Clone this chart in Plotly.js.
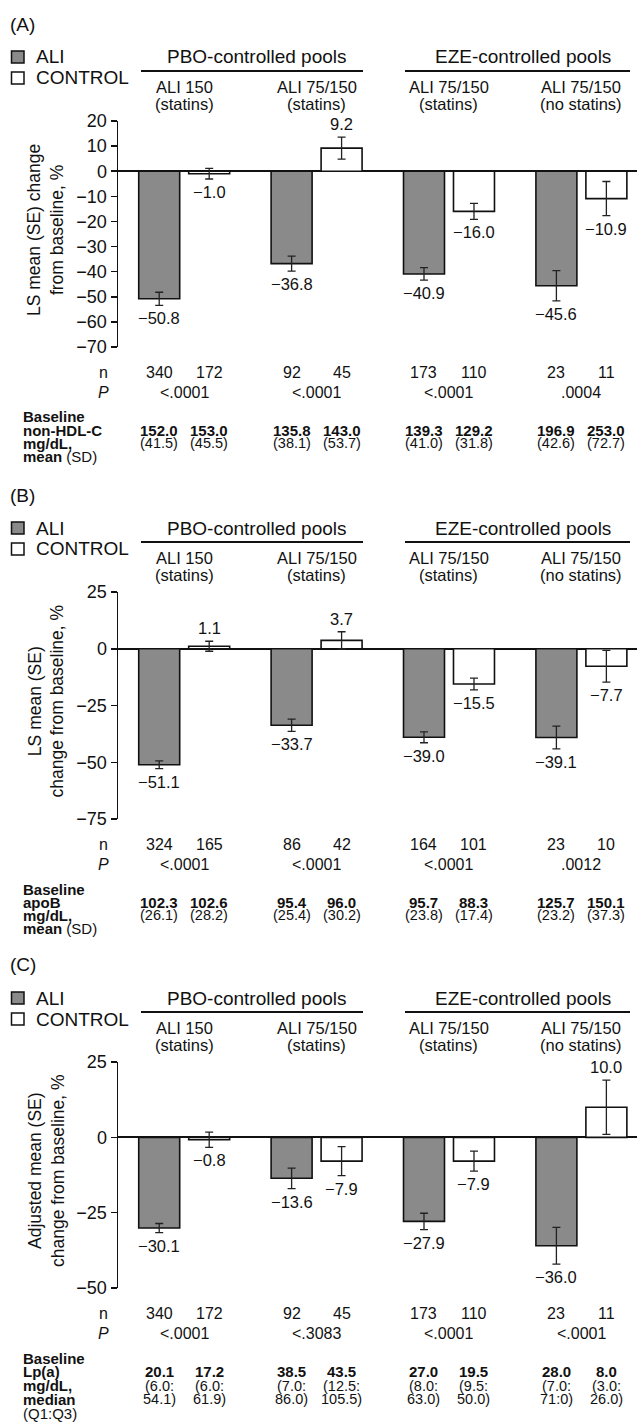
<!DOCTYPE html>
<html>
<head>
<meta charset="utf-8">
<script src="https://cdn.plot.ly/plotly-3.0.1.min.js"></script>
<style>
  html, body { margin: 0; padding: 0; background: #fff; }
  #chart { width: 637px; height: 1427px; }
</style>
</head>
<body>
<div id="chart"></div>
<script>
// ---------- data ----------
const groups = ["PBO: ALI 150 (statins)", "PBO: ALI 75/150 (statins)", "EZE: ALI 75/150 (statins)", "EZE: ALI 75/150 (no statins)"];
const subLine1 = ["ALI 150", "ALI 75/150", "ALI 75/150", "ALI 75/150"];
const subLine2 = ["(statins)", "(statins)", "(statins)", "(no statins)"];
const poolLabels = ["PBO-controlled pools", "EZE-controlled pools"];
const seriesNames = ["ALI", "CONTROL"];

// (A) non-HDL-C
const aAli = [-50.8, -36.8, -40.9, -45.6];
const aAliSE = [2.6, 3.0, 2.5, 6.0];
const aCtl = [-1.0, 9.2, -16.0, -10.9];
const aCtlSE = [2.1, 4.4, 3.2, 6.8];
const aNAli = [340, 92, 173, 23];
const aNCtl = [172, 45, 110, 11];
const aP = ["<.0001", "<.0001", "<.0001", ".0004"];
const aBaseAli = ["152.0", "135.8", "139.3", "196.9"];
const aBaseCtl = ["153.0", "143.0", "129.2", "253.0"];
const aSdAli = ["(41.5)", "(38.1)", "(41.0)", "(42.6)"];
const aSdCtl = ["(45.5)", "(53.7)", "(31.8)", "(72.7)"];
const aTicks = [20, 10, 0, -10, -20, -30, -40, -50, -60, -70];
const aYTitle = ["LS mean (SE) change", "from baseline, %"];
const aRowLabels = ["<b>Baseline</b>", "<b>non-HDL-C</b>", "<b>mg/dL,</b>", "<b>mean</b> (SD)"];

// (B) apoB
const bAli = [-51.1, -33.7, -39.0, -39.1];
const bAliSE = [1.7, 2.7, 2.4, 5.0];
const bCtl = [1.1, 3.7, -15.5, -7.7];
const bCtlSE = [2.2, 3.8, 2.6, 7.0];
const bNAli = [324, 86, 164, 23];
const bNCtl = [165, 42, 101, 10];
const bP = ["<.0001", "<.0001", "<.0001", ".0012"];
const bBaseAli = ["102.3", "95.4", "95.7", "125.7"];
const bBaseCtl = ["102.6", "96.0", "88.3", "150.1"];
const bSdAli = ["(26.1)", "(25.4)", "(23.8)", "(23.2)"];
const bSdCtl = ["(28.2)", "(30.2)", "(17.4)", "(37.3)"];
const bTicks = [25, 0, -25, -50, -75];
const bYTitle = ["LS mean (SE)", "change from baseline, %"];
const bRowLabels = ["<b>Baseline</b>", "<b>apoB</b>", "<b>mg/dL,</b>", "<b>mean</b> (SD)"];

// (C) Lp(a)
const cAli = [-30.1, -13.6, -27.9, -36.0];
const cAliSE = [1.5, 3.4, 2.7, 6.1];
const cCtl = [-0.8, -7.9, -7.9, 10.0];
const cCtlSE = [2.5, 4.8, 3.3, 9.0];
const cNAli = [340, 92, 173, 23];
const cNCtl = [172, 45, 110, 11];
const cP = ["<.0001", "<.3083", "<.0001", "<.0001"];
const cBaseAli = ["20.1", "38.5", "27.0", "28.0"];
const cBaseCtl = ["17.2", "43.5", "19.5", "8.0"];
const cQ1Ali = ["(6.0:", "(7.0:", "(8.0:", "(7.0:"];
const cQ1Ctl = ["(6.0:", "(12.5:", "(9.5:", "(3.0:"];
const cQ3Ali = ["54.1)", "86.0)", "63.0)", "71:0)"];
const cQ3Ctl = ["61.9)", "105.5)", "50.0)", "26.0)"];
const cTicks = [25, 0, -25, -50];
const cYTitle = ["Adjusted mean (SE)", "change from baseline, %"];
const cRowLabels = ["<b>Baseline</b>", "<b>Lp(a)</b>", "<b>mg/dL,</b>", "<b>median</b>", "(Q1:Q3)"];

// ---------- layout helpers ----------
const W = 637, H = 1427;
const FONT = "Liberation Sans, Arial, Helvetica, sans-serif";
const ALI_FILL = "#8a8a8a";
const px = v => v / W;
const py = v => 1 - v / H;

const panels = [
  { tag: "(A)", s: "", top: 121, bottom: 347, rowGap: 13.2, ali: aAli, aliSE: aAliSE, ctl: aCtl, ctlSE: aCtlSE,
    nAli: aNAli, nCtl: aNCtl, p: aP, ticks: aTicks, ytitle: aYTitle, rows: aRowLabels,
    valRows: [[aBaseAli, aBaseCtl, true], [aSdAli, aSdCtl, false]] },
  { tag: "(B)", s: "2", top: 592, bottom: 819, rowGap: 13.2, ali: bAli, aliSE: bAliSE, ctl: bCtl, ctlSE: bCtlSE,
    nAli: bNAli, nCtl: bNCtl, p: bP, ticks: bTicks, ytitle: bYTitle, rows: bRowLabels,
    valRows: [[bBaseAli, bBaseCtl, true], [bSdAli, bSdCtl, false]] },
  { tag: "(C)", s: "3", top: 1062, bottom: 1288, rowGap: 13.8, ali: cAli, aliSE: cAliSE, ctl: cCtl, ctlSE: cCtlSE,
    nAli: cNAli, nCtl: cNCtl, p: cP, ticks: cTicks, ytitle: cYTitle, rows: cRowLabels,
    valRows: [[cBaseAli, cBaseCtl, true], [cQ1Ali, cQ1Ctl, false], [cQ3Ali, cQ3Ctl, false]] }
];

const fmt = v => (v < 0 ? "\u2212" : "") + Math.abs(v).toFixed(1);
const traces = [];
const annotations = [];
const shapes = [];
const layout = {
  width: W, height: H, autosize: false,
  margin: { l: 0, r: 0, t: 0, b: 0, pad: 0 },
  paper_bgcolor: "#fff", plot_bgcolor: "rgba(0,0,0,0)",
  font: { family: FONT, color: "#111", size: 16 },
  barmode: "group", bargap: 0.245, bargroupgap: 0.18,
  showlegend: false,
  annotations: annotations, shapes: shapes
};

const BAR_SHIFT = 25;   // px from group centre to each bar centre
const ROWFONT = 14.5;

panels.forEach(pn => {
  const xa = "x" + pn.s, ya = "y" + pn.s;
  const xKey = "xaxis" + pn.s, yKey = "yaxis" + pn.s;
  const rng = [pn.ticks[pn.ticks.length - 1], pn.ticks[0]];
  layout[xKey] = {
    domain: [px(118), 1], range: [-0.5, 3.42], type: "category",
    showticklabels: false, ticks: "", showline: false, showgrid: false, zeroline: false,
    anchor: ya, fixedrange: true
  };
  layout[yKey] = {
    domain: [py(pn.bottom), py(pn.top)], range: rng, tickvals: pn.ticks,
    ticks: "outside", ticklen: 6, tickwidth: 1.5, tickcolor: "#111",
    showline: true, linecolor: "#111", linewidth: 1.5,
    showgrid: false, zeroline: true, zerolinecolor: "#111", zerolinewidth: 2,
    tickfont: { size: 18, family: FONT, color: "#111" },
    anchor: xa, fixedrange: true
  };

  const series = [
    { name: seriesNames[0], y: pn.ali, se: pn.aliSE, fill: ALI_FILL, shift: -BAR_SHIFT, n: pn.nAli },
    { name: seriesNames[1], y: pn.ctl, se: pn.ctlSE, fill: "#ffffff", shift: BAR_SHIFT, n: pn.nCtl }
  ];
  series.forEach(sr => {
    traces.push({
      type: "bar", name: sr.name, x: groups, y: sr.y, xaxis: xa, yaxis: ya,
      marker: { color: sr.fill, line: { color: "#111", width: 1.6 } },
      error_y: { type: "data", array: sr.se, visible: true, color: "#222", thickness: 1.3, width: 4 },
      hoverinfo: "skip"
    });
    // value labels
    sr.y.forEach((v, i) => {
      const neg = v < 0;
      annotations.push({
        xref: xa, yref: ya, x: groups[i], y: neg ? v - sr.se[i] : v + sr.se[i],
        xshift: sr.shift, yshift: neg ? -2 : 2,
        yanchor: neg ? "top" : "bottom", xanchor: "center",
        text: fmt(v), showarrow: false, font: { size: 16.5 }
      });
    });
    // n values
    sr.n.forEach((n, i) => {
      annotations.push({
        xref: xa, yref: "paper", x: groups[i], y: py(pn.bottom + 25), xshift: sr.shift,
        xanchor: "center", yanchor: "middle", text: String(n), showarrow: false, font: { size: 16 }
      });
    });
  });

  // panel tag
  annotations.push({ xref: "paper", yref: "paper", x: px(8), y: py(pn.top - 97), xanchor: "left", yanchor: "middle",
    text: pn.tag, showarrow: false, font: { size: 19 } });
  // legend
  [[seriesNames[0], ALI_FILL, -64], [seriesNames[1], "#ffffff", -43]].forEach(([lab, col, off]) => {
    const cy = pn.top + off;
    shapes.push({ type: "rect", xref: "paper", yref: "paper", x0: px(11.5), x1: px(24), y0: py(cy + 6), y1: py(cy - 6),
      fillcolor: col, line: { color: "#111", width: 1.5 } });
    annotations.push({ xref: "paper", yref: "paper", x: px(34), y: py(cy), xanchor: "left", yanchor: "middle",
      text: lab, showarrow: false, font: { size: 19 } });
  });
  // pool headers
  [[poolLabels[0], 257, 141, 363], [poolLabels[1], 523, 405, 630]].forEach(([lab, cx, x0, x1]) => {
    annotations.push({ xref: "paper", yref: "paper", x: px(cx), y: py(pn.top - 64), xanchor: "center", yanchor: "middle",
      text: lab, showarrow: false, font: { size: 19 } });
    shapes.push({ type: "line", xref: "paper", yref: "paper", x0: px(x0), x1: px(x1), y0: py(pn.top - 50), y1: py(pn.top - 50),
      line: { color: "#111", width: 1.8 } });
  });
  // sub headers
  groups.forEach((g, i) => {
    annotations.push({ xref: xa, yref: "paper", x: g, y: py(pn.top - 34), xanchor: "center", yanchor: "middle",
      text: subLine1[i], showarrow: false, font: { size: 16.5 } });
    annotations.push({ xref: xa, yref: "paper", x: g, y: py(pn.top - 17), xanchor: "center", yanchor: "middle",
      text: subLine2[i], showarrow: false, font: { size: 16.5 } });
    // P values
    annotations.push({ xref: xa, yref: "paper", x: g, y: py(pn.bottom + 45), xanchor: "center", yanchor: "middle",
      text: pn.p[i], showarrow: false, font: { size: 16 } });
  });
  // y title
  annotations.push({ xref: "paper", yref: "paper", x: px(46), y: py((pn.top + pn.bottom) / 2 - 4), xanchor: "center", yanchor: "middle",
    text: pn.ytitle.join("<br>"), textangle: -90, showarrow: false, font: { size: 17.5 } });
  // n / P row labels
  annotations.push({ xref: "paper", yref: "paper", x: px(104), y: py(pn.bottom + 25), xanchor: "center", yanchor: "middle",
    text: "n", showarrow: false, font: { size: 16 } });
  annotations.push({ xref: "paper", yref: "paper", x: px(104), y: py(pn.bottom + 45), xanchor: "center", yanchor: "middle",
    text: "<i>P</i>", showarrow: false, font: { size: 16 } });
  // baseline block labels
  const base0 = pn.bottom + 70;
  pn.rows.forEach((lab, r) => {
    annotations.push({ xref: "paper", yref: "paper", x: px(21), y: py(base0 + r * pn.rowGap), xanchor: "left", yanchor: "middle",
      text: lab, showarrow: false, font: { size: ROWFONT + 0.5 } });
  });
  // baseline values (start on 2nd row)
  pn.valRows.forEach(([aliVals, ctlVals, bold], r) => {
    [[aliVals, -BAR_SHIFT], [ctlVals, BAR_SHIFT]].forEach(([vals, sh]) => {
      vals.forEach((t, i) => {
        annotations.push({ xref: xa, yref: "paper", x: groups[i], xshift: sh, y: py(base0 + (r + 1) * pn.rowGap),
          xanchor: "center", yanchor: "middle", text: bold ? "<b>" + t + "</b>" : t, showarrow: false,
          font: { size: bold ? ROWFONT + 0.5 : ROWFONT } });
      });
    });
  });
});

Plotly.newPlot("chart", traces, layout, { staticPlot: true, displayModeBar: false });
</script>
</body>
</html>
